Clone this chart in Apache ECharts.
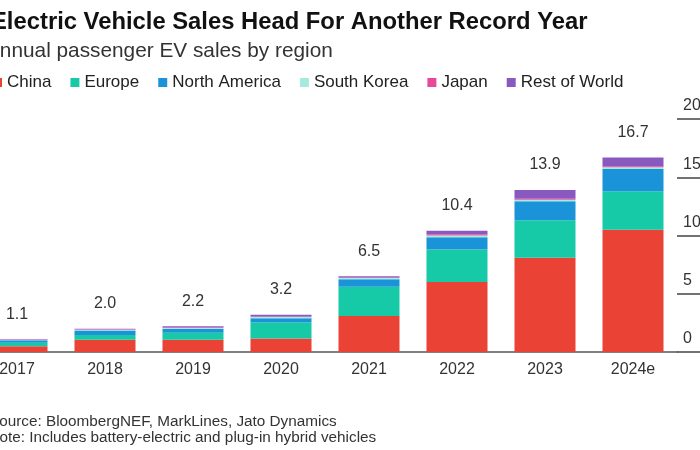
<!DOCTYPE html>
<html>
<head>
<meta charset="utf-8">
<script src="https://cdn.jsdelivr.net/npm/echarts@6/dist/echarts.min.js"></script>
<style>
html,body{margin:0;padding:0;background:#fff;}
#chart{width:700px;height:450px;}
</style>
</head>
<body>
<div id="chart"></div>
<script>
var years = ['2017', '2018', '2019', '2020', '2021', '2022', '2023', '2024e'];
var china = [0.5, 1.05, 1.05, 1.15, 3.1, 6.0, 8.1, 10.5];
var europe = [0.3, 0.4, 0.6, 1.4, 2.5, 2.8, 3.2, 3.3];
var northAmerica = [0.2, 0.4, 0.35, 0.35, 0.65, 1.05, 1.65, 1.9];
var southKorea = [0.02, 0.05, 0.05, 0.1, 0.1, 0.15, 0.12, 0.15];
var japan = [0.05, 0.05, 0.05, 0.05, 0.05, 0.1, 0.08, 0.1];
var restOfWorld = [0.03, 0.05, 0.1, 0.15, 0.1, 0.3, 0.75, 0.75];
var totals = ['1.1', '2.0', '2.2', '3.2', '6.5', '10.4', '13.9', '16.7'];
var yTicks = [0, 5, 10, 15, 20];

var FONT = 'Liberation Sans, Arial, sans-serif';
var chart = echarts.init(document.getElementById('chart'), null, {renderer: 'canvas'});

function mk(name, data, color, isTop) {
  var s = {
    name: name, type: 'bar', stack: 'total', data: data, barWidth: 61,
    itemStyle: {color: color}, emphasis: {disabled: true}
  };
  if (isTop) {
    s.label = {
      show: true, position: 'top', distance: 17,
      formatter: function (p) { return totals[p.dataIndex]; },
      color: '#333', fontSize: 16, fontFamily: FONT
    };
  }
  return s;
}

chart.setOption({
  animation: false,
  backgroundColor: '#ffffff',
  title: [
    {text: 'Electric Vehicle Sales Head For Another Record Year', left: -9, top: 10, padding: 0,
     textStyle: {fontSize: 23.8, fontWeight: 'bold', color: '#111', fontFamily: FONT}},
    {text: 'Annual passenger EV sales by region', left: -14, top: 41, padding: 0,
     textStyle: {fontSize: 20.8, fontWeight: 'normal', color: '#333', fontFamily: FONT}},
    {text: 'Source: BloombergNEF, MarkLines, Jato Dynamics', left: -11, top: 414, padding: 0,
     textStyle: {fontSize: 15.3, fontWeight: 'normal', color: '#333', fontFamily: FONT}},
    {text: 'Note: Includes battery-electric and plug-in hybrid vehicles', left: -11.5, top: 430, padding: 0,
     textStyle: {fontSize: 15.3, fontWeight: 'normal', color: '#333', fontFamily: FONT}}
  ],
  legend: {
    left: -7, top: 74, padding: 0, itemGap: 19, itemWidth: 9, itemHeight: 9, icon: 'rect',
    selectedMode: false,
    textStyle: {fontSize: 17, color: '#222', fontFamily: FONT},
    data: ['China', 'Europe', 'North America', 'South Korea', 'Japan', 'Rest of World']
  },
  grid: {left: -27, right: 23, top: 119, bottom: 98, containLabel: false, outerBoundsMode: 'none'},
  xAxis: {
    type: 'category', data: years,
    axisLine: {show: true, lineStyle: {color: '#555', width: 1.5}},
    axisTick: {show: false},
    axisLabel: {color: '#333', fontSize: 16, margin: 10, fontFamily: FONT}
  },
  yAxis: {
    type: 'value', position: 'right', min: 0, max: 20, interval: 5,
    axisLine: {show: false},
    axisTick: {show: true, length: 23, lineStyle: {color: '#444', width: 1.5}},
    splitLine: {show: false},
    axisLabel: {
      color: '#333', fontSize: 16, margin: 6, verticalAlign: 'bottom', align: 'left',
      padding: [0, 0, 5, 0], fontFamily: FONT,
      formatter: function (v) { return yTicks.indexOf(v) >= 0 ? String(v) : ''; }
    }
  },
  series: [
    mk('China', china, '#EA4234'),
    mk('Europe', europe, '#16C9A7'),
    mk('North America', northAmerica, '#1B93D8'),
    mk('South Korea', southKorea, '#A6E9DE'),
    mk('Japan', japan, '#E8489B'),
    mk('Rest of World', restOfWorld, '#8A59C0', true)
  ]
});
</script>
</body>
</html>
